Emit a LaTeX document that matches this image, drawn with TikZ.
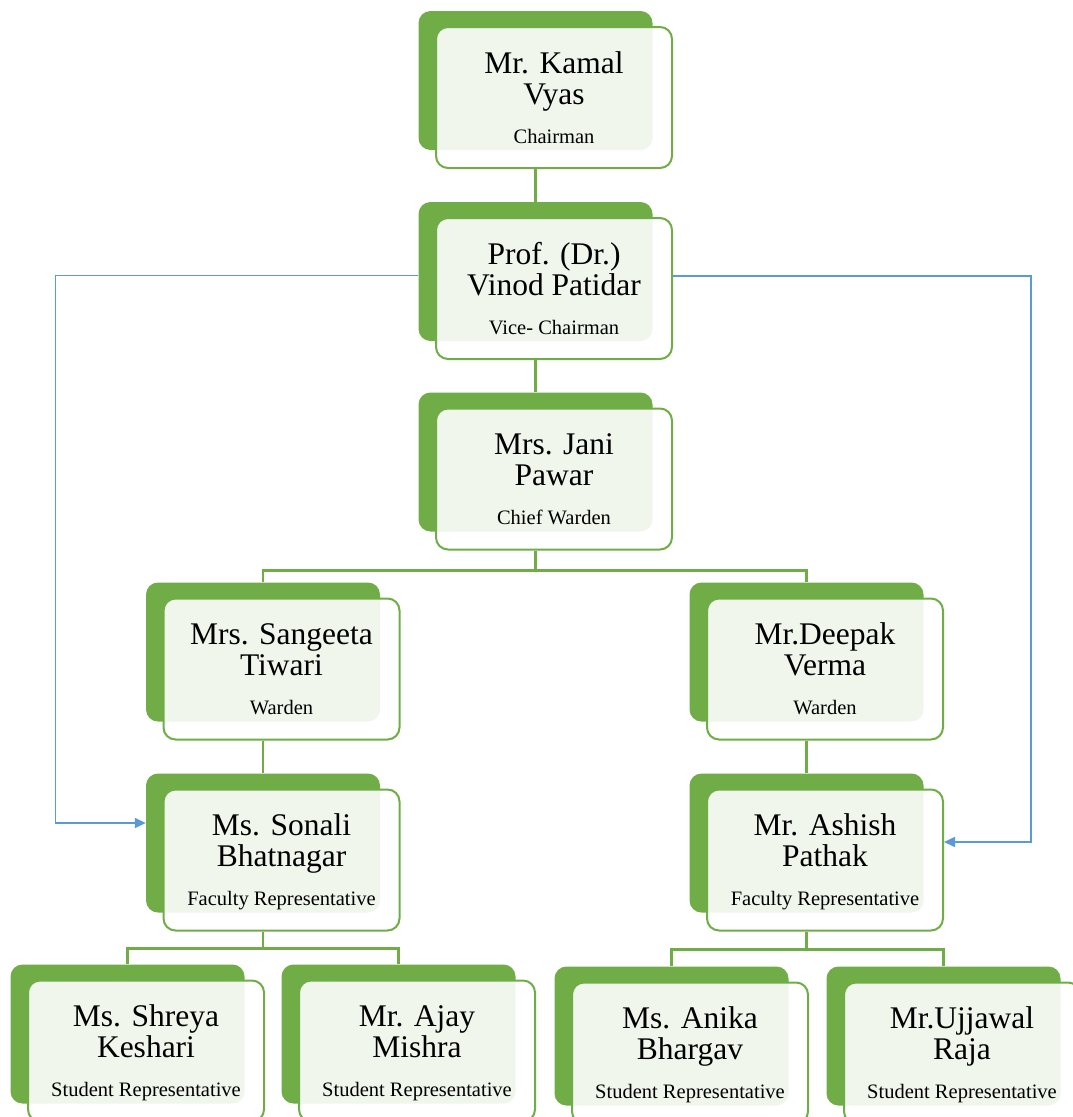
\documentclass[tikz,border=0pt]{standalone}
\usepackage{fontspec}
\setmainfont{Liberation Serif}
\usetikzlibrary{arrows.meta}
\definecolor{ogreen}{HTML}{70AD47}
\definecolor{oblue}{HTML}{5B9BD5}
\tikzset{
  backbox/.style={draw=none, fill=ogreen, rounded corners=12pt, minimum width=234pt, minimum height=139pt, inner sep=0pt},
  frontbox/.style={draw=ogreen, line width=2pt, fill=white, fill opacity=0.9, rounded corners=12pt, minimum width=236pt, minimum height=141pt, inner sep=0pt},
  nametext/.style={anchor=base, inner sep=0pt, font=\fontsize{31.5}{33}\selectfont},
  roletext/.style={anchor=base, inner sep=0pt, font=\fontsize{20.5}{22}\selectfont},
  conn/.style={draw=ogreen, line width=2.3pt},
  blueconn/.style={draw=oblue, line width=1.5pt, -{Triangle[length=11pt,width=10pt]}}
}
\newcommand\orgunit[6]{%
  \node[backbox] (#1-b) at (#2-18.5,#3-17) {};
  \node[frontbox] (#1) at (#2,#3) {};
  \node[nametext] (#1-n1) at ([yshift=-47pt]#1.north) {#4};
  \node[nametext] (#1-n2) at ([yshift=-78pt]#1.north) {#5};
  \node[roletext] (#1-r) at ([yshift=-117pt]#1.north) {#6};
}
\begin{document}
\begin{tikzpicture}[x=1pt,y=-1pt]
\clip (0,0) rectangle (1073,1117);
\fill[white] (0,0) rectangle (1073,1117);

\orgunit{ch}{554}{97.5}{Mr. Kamal}{Vyas}{Chairman}
\orgunit{vc}{554}{288.5}{Prof. (Dr.)}{Vinod Patidar}{Vice- Chairman}
\orgunit{cw}{554}{479}{Mrs. Jani}{Pawar}{Chief Warden}
\orgunit{sg}{281.5}{669}{Mrs. Sangeeta}{Tiwari}{Warden}
\orgunit{dv}{825}{669}{Mr.Deepak}{Verma}{Warden}
\orgunit{sb}{281.5}{860}{Ms. Sonali}{Bhatnagar}{Faculty Representative}
\orgunit{ap}{825}{860}{Mr. Ashish}{Pathak}{Faculty Representative}
\orgunit{sk}{146}{1051}{Ms. Shreya}{Keshari}{Student Representative}
\orgunit{am}{417}{1051}{Mr. Ajay}{Mishra}{Student Representative}
\orgunit{ak}{690}{1053}{Ms. Anika}{Bhargav}{Student Representative}
\orgunit{uj}{962}{1053}{Mr.Ujjawal}{Raja}{Student Representative}

% green connectors
\draw[conn] (ch-b.south |- ch.south) -- (vc-b.north);
\draw[conn] (vc-b.south |- vc.south) -- (cw-b.north);
\draw[conn] (cw-b.south |- cw.south) -- ++(0,20) coordinate (j1);
\draw[conn] (sg-b.north) |- (j1) -| (dv-b.north);
\draw[conn] (sg-b.south |- sg.south) -- (sb-b.north);
\draw[conn] (dv-b.south |- dv.south) -- (ap-b.north);
\draw[conn] (sb-b.south |- sb.south) -- ++(0,17) coordinate (j2);
\draw[conn] (sk-b.north) |- (j2) -| (am-b.north);
\draw[conn] (ap-b.south |- ap.south) -- ++(0,18) coordinate (j3);
\draw[conn] (ak-b.north) |- (j3) -| (uj-b.north);

% blue connectors
\draw[blueconn] ([yshift=-4pt]vc-b.west) -- ++(-363,0) |- ([yshift=20pt]sb-b.west);
\draw[blueconn] ([yshift=12.5pt]vc.east) -- ++(358,0) |- ([yshift=18pt]ap.east);
\end{tikzpicture}
\end{document}
